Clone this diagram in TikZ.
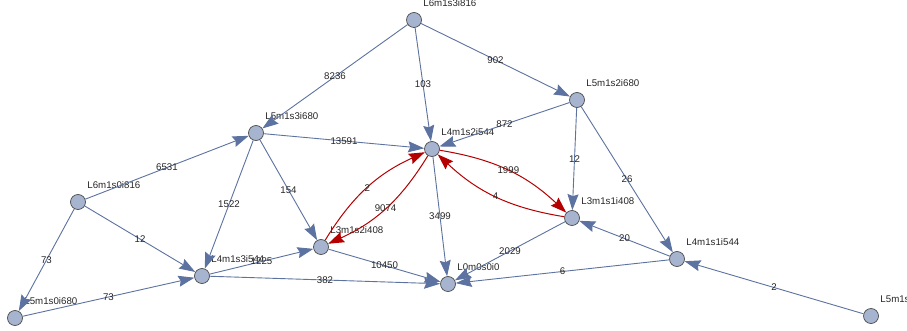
\documentclass[tikz,border=0pt]{standalone}
\usepackage{fontspec}
\setmainfont{Liberation Sans}
\usetikzlibrary{
  arrows.meta,
  positioning,
  }
\definecolor{edgeblue}{RGB}{92,114,160}
\definecolor{nodefill}{RGB}{166,180,207}
\definecolor{flowred}{RGB}{180,0,0}

\begin{document}
\begin{tikzpicture}[x=1pt, y=-1pt,
                    every node/.style={font=\fontsize{9.7}{11}\selectfont, text=black!85, inner sep=0pt},
                    state/.style={circle, draw=black!70, fill=nodefill, line width=0.7pt, minimum size=15pt},
                    lbl/.style={label={[xshift=3.7pt, yshift=7.2pt]north east:#1}},
                    flow/.style={draw=edgeblue, line width=0.9pt, -{Stealth[length=16pt, width=11pt, inset=2pt]}},
                    hot/.style={flow, draw=flowred, line width=1pt}]
                \clip (0,0) rectangle (907,331);
                % levels, top to bottom
                \node[state, lbl=L6m1s3i816] (l6s3) at (414,20)  {};
                \node[state, lbl=L5m1s2i680] (l5s2) at (577,100) {};
                \node[state, lbl=L5m1s3i680] (l5s3) at (256,133) {};
                \node[state, lbl=L4m1s2i544] (l4s2) at (432,149) {};
                \node[state, lbl=L6m1s0i816] (l6s0) at (78,202)  {};
                \node[state, lbl=L3m1s1i408] (l3s1) at (572,218) {};
                \node[state, lbl=L3m1s2i408] (l3s2) at (321,247) {};
                \node[state, lbl=L4m1s1i544] (l4s1) at (677,259) {};
                \node[state, lbl=L4m1s3i544] (l4s3) at (202,276) {};
                \node[state, lbl=L0m0s0i0]   (l0)   at (448,284) {};
                \node[state, lbl=L5m1s0i680] (l5s0) at (15,318)  {};
                \node[state, lbl=L5m1s1i680] (l5s1) at (871,316) {};

                \draw[flow] (l6s3) -- node{8236}  (l5s3);
                \draw[flow] (l6s3) -- node{103}   (l4s2);
                \draw[flow] (l6s3) -- node{902}   (l5s2);
                \draw[flow] (l5s2) -- node{872}   (l4s2);
                \draw[flow] (l5s2) -- node{12}    (l3s1);
                \draw[flow] (l5s2) -- node{26}    (l4s1);
                \draw[flow] (l5s3) -- node{13591} (l4s2);
                \draw[flow] (l5s3) -- node{154}   (l3s2);
                \draw[flow] (l5s3) -- node{1522}  (l4s3);
                \draw[flow] (l6s0) -- node{6531}  (l5s3);
                \draw[flow] (l6s0) -- node{12}    (l4s3);
                \draw[flow] (l6s0) -- node{73}    (l5s0);
                \draw[flow] (l5s0) -- node{73}    (l4s3);
                \draw[flow] (l4s3) -- node{1225}  (l3s2);
                \draw[flow] (l4s3) -- node{382}   (l0);
                \draw[flow] (l3s2) -- node{10450} (l0);
                \draw[flow] (l4s2) -- node{3499}  (l0);
                \draw[flow] (l3s1) -- node{2029}  (l0);
                \draw[flow] (l4s1) -- node{20}    (l3s1);
                \draw[flow] (l4s1) -- node{6}     (l0);
                \draw[flow] (l5s1) -- node{2}     (l4s1);
                % two-way pairs
                \draw[hot] (l3s2) to[bend left=17] node{2}    (l4s2);
                \draw[hot] (l4s2) to[bend left=17] node{9074} (l3s2);
                \draw[hot] (l4s2) to[bend left=17] node{1999} (l3s1);
                \draw[hot] (l3s1) to[bend left=17] node{4}    (l4s2);
\end{tikzpicture}
\end{document}
